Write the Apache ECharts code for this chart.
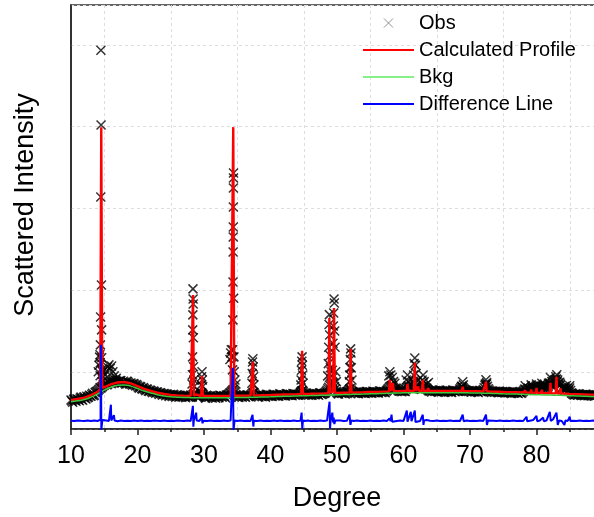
<!DOCTYPE html>
<html><head><meta charset="utf-8">
<script src="https://cdn.jsdelivr.net/npm/echarts@6/dist/echarts.min.js"></script>
<style>html,body{margin:0;padding:0;background:#fff;overflow:hidden;width:594px;height:517px}#c{width:603px;height:517px}</style>
</head><body><div id="c"></div>
<script>
// Observed band, sampled every 0.25 degree starting at 10
const obsStart = 10, obsStep = 0.25;
const obsBand = [
655,628,670,640, 668,645,690,652, 695,668,683,712, 700,738,715,752, 765,790,800,822,
835,860,845,875, 880,905,870,895, 880,855,890,868, 872,848,880,856, 862,835,850,826,
828,800,815,788, 796,770,785,758, 772,745,760,738, 752,722,742,715, 735,708,726,698,
722,698,716,690, 718,688,708,694, 712,684,706,690, 715,692,730,710, 702,688,726,735,
700,676,706,688, 708,680,698,676, 702,684,710,690, 706,680,712,728, 745,770,760,722,
708,686,712,690, 704,688,716,694, 712,735,745,710, 708,692,718,696, 714,690,716,700,
712,698,722,704, 718,700,726,708, 716,704,728,712, 724,706,726,714, 722,712,748,770,
738,716,732,714, 728,714,734,720, 732,714,738,722, 734,745,775,810, 850,880,860,790,
745,728,746,734, 742,728,752,770, 795,762,748,734, 748,732,752,740, 746,734,756,742,
752,738,758,744, 752,740,762,746, 758,744,772,795, 820,832,805,784, 792,770,762,756,
768,758,802,830, 808,835,880,852, 822,800,792,784, 832,802,800,772, 768,754,772,758,
766,750,772,756, 762,750,768,754, 760,748,772,756, 766,758,792,822, 802,780,772,758,
762,750,766,754, 762,748,766,756, 782,832,852,792, 762,748,760,750, 756,744,760,748,
752,740,756,744, 748,736,754,740, 746,734,750,738, 762,790,772,802, 782,812,792,804,
832,802,792,822, 802,832,794,822, 862,832,882,902, 912,852,872,802, 792,772,832,762,
802,742,726,716, 724,712,726,710, 720,708,722,706, 716,704,718,702, 712
];
// Observed band, in-between samples starting at 10.125, step 0.25
const obsMidStart = 10.125;
const obsBandMid = [
642,662,650,668, 655,678,662,685, 676,700,690,705, 722,708,745,760, 778,808,815,838,
850,842,868,860, 892,875,900,882, 868,892,862,884, 860,884,866,848, 848,858,838,845,
812,822,796,808, 782,790,766,776, 758,766,748,752, 738,744,730,732, 722,728,712,716,
708,725,702,712, 702,714,696,705, 698,710,692,702, 700,722,715,722, 690,712,740,718,
688,712,694,702, 692,704,688,700, 692,712,696,704, 694,716,720,740, 758,782,745,712,
696,716,700,708, 696,712,702,708, 722,748,728,704, 700,722,704,710, 702,724,706,712,
704,726,710,716, 708,730,714,718, 710,732,718,722, 712,734,720,724, 716,730,762,752,
726,740,722,728, 720,740,724,730, 722,742,726,732, 738,760,792,835, 870,872,820,760,
736,752,740,748, 734,756,762,785, 778,756,740,752, 738,758,744,750, 740,760,746,752,
744,762,748,754, 746,766,750,756, 750,762,785,810, 826,818,792,800, 780,766,770,764,
762,782,815,812, 820,860,866,832, 810,796,790,805, 815,790,784,766, 762,776,764,770,
758,778,762,768, 756,774,760,766, 754,776,762,770, 762,776,808,810, 790,776,766,770,
756,772,758,766, 754,772,760,768, 806,842,822,776, 756,766,754,762, 750,764,752,758,
746,760,748,754, 742,758,746,750, 740,756,742,752, 776,780,788,792, 796,800,798,816,
818,796,808,812, 816,812,808,840, 846,858,892,906, 880,862,838,796, 782,802,796,780,
772,734,720,730, 718,730,716,722, 714,726,712,718, 710,722,708,716
];
// Observed points on the Bragg peaks [degree, intensity]
const obsPeaks = [
[14.1,1000],[14.2,1080],[14.3,1180],[14.35,1210],[14.38,951],[14.4,1110],[14.42,1330],[14.45,1672],[14.48,3139],[14.5,4937],[14.52,4020],[14.58,2063],[14.6,1513],[14.62,1171],[14.65,1024],[14.68,878],[14.75,1000],[14.85,940],
[15.1,960],[15.3,1010],[15.5,1060],[15.7,1085],[15.9,1040],[16.1,1070],[16.3,1000],[16.5,950],[16.8,920],
[28.2,850],[28.25,963],[28.28,1183],[28.3,1513],[28.32,1697],[28.34,2015],[28.36,1892],[28.38,1831],[28.4,1416],[28.42,1061],[28.45,900],[28.5,820],
[29.6,840],[29.65,940],[29.7,1000],[29.75,900],[29.8,820],
[33.9,1150],[34.0,1230],[34.1,1270],[34.2,1183],[34.28,1024],[34.32,1269],[34.34,1636],[34.36,2100],[34.38,2467],[34.39,2650],[34.4,2773],[34.41,3017],[34.42,3249],[34.43,3372],[34.44,3433],[34.46,1900],[34.5,1183],[34.55,1000],[34.65,900],[34.8,850],
[37.2,860],[37.25,980],[37.3,1120],[37.35,1160],[37.4,1060],[37.45,940],[37.5,840],
[44.55,840],[44.6,900],[44.65,1020],[44.7,1130],[44.75,1183],[44.8,1080],[44.85,960],[44.9,860],
[48.6,950],[48.7,1100],[48.75,1300],[48.8,1580],[48.85,1700],[48.9,1450],[48.95,1200],[49.0,1050],[49.1,1000],[49.2,950],[49.3,1020],[49.4,1350],[49.45,1560],[49.5,1720],[49.55,1892],[49.6,1843],[49.65,1500],[49.7,1300],[49.8,1000],[49.9,880],
[51.85,880],[51.9,960],[51.95,1050],[52.0,1150],[52.05,1281],[52.1,1230],[52.15,1050],[52.25,900],
[57.8,950],[57.95,1000],[58.1,960],[58.3,930],[58.5,880],[58.7,860],[60.4,900],[60.6,960],[60.8,880],[61.5,960],[61.6,1100],[61.7,1170],[61.8,1080],[61.9,980],[62.2,900],[62.8,900],[62.95,960],[63.1,880],[63.5,850],[63.75,870],
[68.8,820],[68.9,878],[69.0,840],
[72.3,850],[72.4,902],[72.5,870],
[78.3,830],[79.2,840],[79.5,820],[80.0,850],[80.5,830],[80.8,860],[81.3,840],[81.8,860],[82.1,930],[82.3,880],[82.9,940],[83.05,963],[83.2,900],[83.6,850],[84.2,820],[85.0,830]
];
// Calculated profile [degree, intensity]
const calc = [
[10,655],[11,667],[12,682],[13,714],[14,756],[14.4,788],[14.55,3995],[14.7,802],[15,805],[16,845],[17,870],[18,875],[19,858],[20,825],[21,792],[22,765],[23,744],[24,728],[25,717],[26,712],[27,708],[28,706],[28.22,706],[28.35,1941],[28.48,706],[28.8,722],[29,705],[29.58,704],[29.7,951],[29.82,704],[30,704],[31,704],[32,704],[33,705],[34,706],[34.25,710],[34.4,3995],[34.55,710],[35,707],[36,708],[37,710],[37.22,711],[37.35,1122],[37.48,712],[38,712],[39,714],[40,716],[41,719],[42,722],[43,724],[44,726],[44.62,728],[44.75,1257],[44.88,729],[45,729],[46,731],[47,733],[48,735],[48.72,738],[48.85,1660],[48.98,748],[49.2,765],[49.42,758],[49.55,1782],[49.68,748],[50,741],[51,743],[51.92,745],[52.05,1281],[52.18,745],[53,747],[54,749],[55,752],[56,755],[57,758],[57.82,760],[57.95,902],[58.1,767],[58.25,762],[58.4,860],[58.55,762],[59,763],[60,765],[60.48,766],[60.6,853],[60.72,766],[61,766],[61.58,766],[61.7,1110],[61.82,766],[62.08,766],[62.2,820],[62.32,766],[62.78,766],[62.9,902],[63.02,766],[63.58,766],[63.7,800],[63.82,766],[64,766],[65,765],[66,765],[67,765],[68,765],[68.78,765],[68.9,817],[69.02,765],[70,764],[71,763],[72,761],[72.28,761],[72.4,878],[72.52,761],[73,759],[74,756],[75,753],[76,751],[77,749],[78,747],[78.2,747],[78.3,772],[78.4,747],[79.1,745],[79.2,782],[79.3,745],[79.9,742],[80,804],[80.1,742],[80.7,740],[80.8,782],[80.9,740],[82,737],[82.1,866],[82.2,737],[82.9,736],[83,939],[83.1,736],[83.5,735],[83.6,800],[83.7,735],[84,733],[85,730],[86,727],[87,724],[88,721],[89,718]
];
// Background, one value per degree from 10 to 89
const bkgStart = 10;
const bkg = [633,645,660,690,730,775,812,835,840,825,795,765,740,720,705,695,690,686,684,683,
682,682,682,683,684,685,686,688,690,692,694,697,700,702,704,707,709,711,713,716,
719,721,723,725,727,730,733,736,739,741,743,744,744,744,744,743,743,743,743,743,
742,741,739,737,734,731,729,727,725,722,719,717,715,713,711,708,705,702,699,696];
// Difference line (offset) [degree, value]
const diff = [
[10,402],[10.5,398],[11,404],[11.5,400],[12,397],[12.5,403],[13,399],[13.5,404],[14,398],[14.3,406],[14.44,415],[14.5,1330],[14.56,290],[14.64,290],[14.72,410],[14.9,398],[15.3,404],[15.7,398],[15.95,404],[16.0,597],[16.06,404],[16.3,402],[16.45,470],[16.55,405],[17,396],[17.5,403],[18,398],[18.5,402],[19,397],[19.5,403],[20,399],[20.5,404],[21,398],[21.5,402],[22,397],[22.5,403],[23,400],[23.5,398],[24,403],[24.5,399],[25,402],[25.5,397],[26,403],[26.5,400],[27,398],[27.5,404],[28,399],[28.25,404],[28.33,584],[28.4,328],[28.47,404],[28.75,402],[28.82,500],[28.9,404],[29.3,399],[29.65,440],[29.78,370],[29.9,402],[30.5,398],[31,403],[31.5,399],[32,402],[32.5,397],[33,403],[33.5,399],[34,404],[34.25,410],[34.33,1049],[34.44,280],[34.52,290],[34.6,404],[35,399],[35.5,403],[36,398],[36.5,402],[37,399],[37.3,475],[37.42,330],[37.5,402],[38,398],[38.5,403],[39,399],[39.5,402],[40,397],[40.5,403],[41,399],[41.5,404],[42,398],[42.5,402],[43,399],[43.5,403],[44,398],[44.5,402],[44.68,500],[44.78,300],[44.88,404],[45.2,398],[45.6,403],[46,399],[46.5,402],[47,398],[47.5,403],[48,399],[48.5,403],[48.8,410],[48.88,634],[48.95,303],[49.05,410],[49.15,395],[49.3,500],[49.4,380],[49.5,440],[49.6,360],[49.75,404],[50,399],[50.5,403],[51,398],[51.5,402],[51.88,475],[52.02,350],[52.15,404],[52.5,399],[53,403],[53.5,398],[54,402],[54.5,399],[55,403],[55.5,398],[56,402],[56.5,399],[57,403],[57.5,398],[57.9,430],[58.05,395],[58.2,475],[58.3,390],[58.5,404],[59,399],[59.5,403],[60,398],[60.5,525],[60.6,390],[60.8,404],[61.1,510],[61.2,395],[61.5,402],[61.7,525],[61.8,385],[62,404],[62.5,399],[62.9,475],[63.0,350],[63.1,404],[63.5,410],[63.6,390],[64,402],[64.5,398],[65,403],[65.5,399],[66,402],[66.5,398],[67,403],[67.5,399],[68,402],[68.5,398],[68.9,475],[69.05,396],[69.5,403],[70,399],[70.5,402],[71,398],[71.5,403],[72,399],[72.4,475],[72.55,350],[72.7,404],[73,399],[73.5,402],[74,398],[74.5,403],[75,399],[75.5,402],[76,398],[76.5,403],[77,399],[77.5,402],[78,398],[78.5,450],[78.6,395],[79,402],[79.5,410],[80,462],[80.1,395],[80.5,404],[81,440],[81.1,396],[81.5,403],[82,510],[82.15,398],[82.5,420],[83,500],[83.2,350],[83.4,404],[83.8,398],[84.2,350],[84.35,404],[84.7,399],[85,450],[85.1,398],[85.5,402],[86,398],[86.5,403],[87,399],[87.5,402],[88,398],[88.5,403],[89,400]
];
const seriesNames = ['Obs','Calculated Profile','Bkg','Difference Line'];
const xTitle = 'Degree', yTitle = 'Scattered Intensity';

const FONT = 'Liberation Sans, Arial, sans-serif';
const LINE_ICON = 'path://M0,0H51V2.2H0Z';
const obsData = obsBand.map((v,i)=>[obsStart + i*obsStep, v])
  .concat(obsBandMid.map((v,i)=>[obsMidStart + i*obsStep, v]))
  .concat(obsPeaks);
const bkgData = bkg.map((v,i)=>[bkgStart + i, v]);

const chart = echarts.init(document.getElementById('c'), null, {renderer:'canvas'});
chart.setOption({
  animation:false,
  backgroundColor:'#fff',
  grid:{left:71, top:5, right:0, bottom:88, show:true, borderColor:'#333', borderWidth:1.5, backgroundColor:'transparent'},
  legend:{
    data:[
      {name:seriesNames[0], itemStyle:{borderColor:'#777', borderWidth:1}},
      {name:seriesNames[1], icon:LINE_ICON},
      {name:seriesNames[2], icon:LINE_ICON, itemStyle:{color:'#88f088'}},
      {name:seriesNames[3], icon:LINE_ICON}
    ],
    orient:'vertical', left:358, top:8, itemWidth:51, itemHeight:9, itemGap:7,
    textStyle:{fontSize:20, fontFamily:FONT, color:'#000'}
  },
  graphic:[{type:'text', x:26, y:205, rotation:Math.PI/2,
    style:{text:yTitle, fontSize:27, fontFamily:FONT, fill:'#000', align:'center', verticalAlign:'middle'}}],
  xAxis:{type:'value', min:10, max:90, interval:10,
    name:xTitle, nameLocation:'middle', nameGap:56, nameTextStyle:{fontSize:27, fontFamily:FONT, color:'#000'},
    axisLine:{lineStyle:{color:'#222', width:1.5}},
    axisTick:{show:true, length:6, lineStyle:{color:'#222', width:1.5}},
    minorTick:{show:true, splitNumber:2, length:3, lineStyle:{color:'#222', width:1.5}},
    axisLabel:{fontSize:25, fontFamily:FONT, color:'#000', margin:15, showMaxLabel:false},
    splitLine:{show:false},
    minorSplitLine:{show:true, lineStyle:{color:'#ddd', type:[3,3], width:1}}
  },
  yAxis:{type:'value', min:300, max:5490, splitNumber:5,
    axisLine:{show:true, lineStyle:{color:'#222', width:1.5}},
    axisTick:{show:false}, axisLabel:{show:false},
    splitLine:{show:true, lineStyle:{color:'#ddd', type:[3,3], width:1}}
  },
  series:[
    {name:seriesNames[0], type:'scatter', data:obsData, symbol:'path://M0,0L10,10M10,0L0,10', symbolSize:9,
     itemStyle:{color:'none', borderColor:'#000', borderWidth:1.5}, z:2},
    {name:seriesNames[1], type:'line', data:calc, symbol:'none', lineStyle:{color:'#ff0000', width:2.4}, itemStyle:{color:'#ff0000'}, z:3},
    {name:seriesNames[2], type:'line', data:bkgData, symbol:'none', smooth:true, lineStyle:{color:'#3fc83f', width:1.5}, itemStyle:{color:'#3fc83f'}, z:4},
    {name:seriesNames[3], type:'line', data:diff, symbol:'none', lineStyle:{color:'#0000ff', width:2}, itemStyle:{color:'#0000ff'}, z:5}
  ]
});
</script></body></html>
